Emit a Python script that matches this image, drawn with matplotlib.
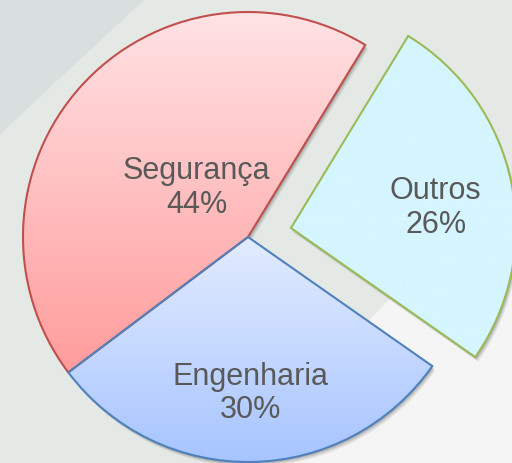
import numpy as np
import matplotlib.pyplot as plt
from matplotlib.patches import Polygon, Wedge

categories = ['Segurança', 'Engenharia', 'Outros']
values = [44, 30, 26]
explode = [0, 0, 0.195]
start_angle = 58.6

W, H = 512, 464
R = 225.0
CX, CY = 248.0, 238.0

fig = plt.figure(figsize=(W / 100, H / 100), dpi=100)
fig.patch.set_facecolor('#E4E9E6')

ax = fig.add_axes([0, 0, 1, 1])
ax.set_facecolor('none')

def px(x, y):
    return (x / W, 1 - y / H)

# background shapes (axes fraction == figure fraction)
ax.add_patch(Polygon([px(0, 0), px(145, 0), px(0, 135)], closed=True,
                     transform=ax.transAxes, facecolor='#D9DFDF',
                     edgecolor='none', zorder=0))
ax.add_patch(Polygon([px(512, 178), px(512, 464), px(226, 464)], closed=True,
                     transform=ax.transAxes, facecolor='#F5F5F5',
                     edgecolor='none', zorder=0))

wedges, _ = ax.pie(values, startangle=start_angle, counterclock=True,
                   explode=explode, radius=1, center=(0, 0),
                   wedgeprops=dict(linewidth=1.5))

edge_colors = ['#C0504D', '#4F81BD', '#9BBB59']
top_colors = ['#FFE4E6', '#E3ECFF', '#D5F5FF']
bot_colors = ['#FF9C9C', '#A6C4FF', '#D5F5FF']
label_dist = [0.32, 0.69, 0.65]
label_shift = [-2.0, 0.0, -3.5]

def hex2rgb(h):
    h = h.lstrip('#')
    return np.array([int(h[i:i + 2], 16) / 255 for i in (0, 2, 4)])

for i, w in enumerate(wedges):
    w.set_edgecolor(edge_colors[i])
    w.set_facecolor('none')
    w.set_zorder(3)
    c = w.center
    # soft shadow
    for off, a in [(0.022, 0.05), (0.017, 0.07), (0.012, 0.09), (0.007, 0.1)]:
        sh = Wedge((c[0] + off * 0.6, c[1] - off), w.r, w.theta1, w.theta2,
                   facecolor='black', edgecolor='none', alpha=a, zorder=1)
        ax.add_patch(sh)
    # gradient fill
    verts = w.get_path().vertices
    x0, y0 = verts.min(axis=0)
    x1, y1 = verts.max(axis=0)
    t = np.linspace(0, 1, 256)[:, None]
    top = hex2rgb(top_colors[i])
    bot = hex2rgb(bot_colors[i])
    grad = (top[None, :] * (1 - t) + bot[None, :] * t)[:, None, :]
    im = ax.imshow(grad, extent=[x0, x1, y0, y1], origin='upper',
                   aspect='auto', zorder=2, interpolation='bilinear')
    im.set_clip_path(w)
    # label
    mid = np.deg2rad((w.theta1 + w.theta2) / 2 + label_shift[i])
    d = label_dist[i]
    ax.text(c[0] + d * np.cos(mid), c[1] + d * np.sin(mid),
            f'{categories[i]}\n{values[i]}%', ha='center', va='center',
            fontsize=22, color='#595959', family='Liberation Sans',
            linespacing=1.15, zorder=5)

ax.set_xlim(-CX / R, (W - CX) / R)
ax.set_ylim(-(H - CY) / R, CY / R)
ax.set_aspect('equal')
ax.axis('off')

fig.savefig('out.png', dpi=100, facecolor=fig.get_facecolor())
